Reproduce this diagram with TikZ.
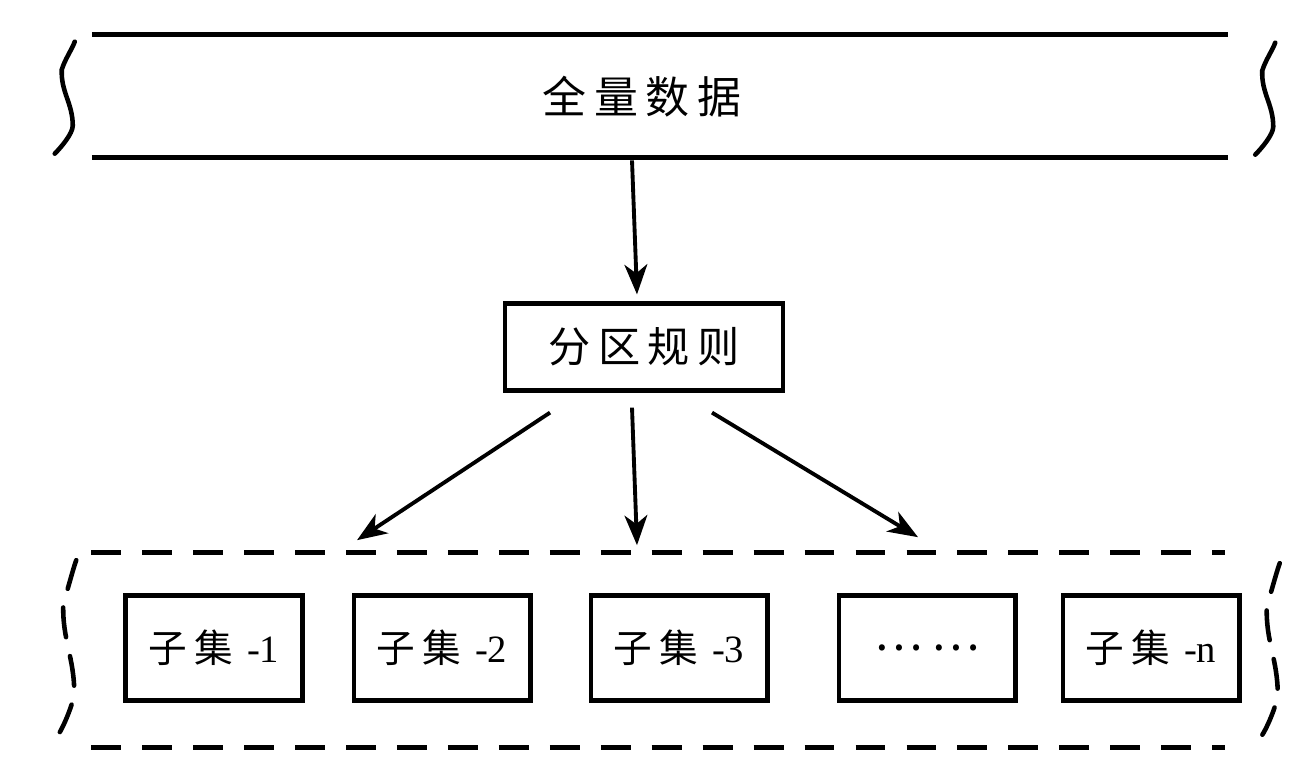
\documentclass[tikz,border=0pt]{standalone}
\usepackage{fontspec}
\setmainfont{Liberation Serif}
\newfontfamily\cjk[LetterSpace=18]{Noto Sans CJK SC}
\usetikzlibrary{arrows.meta,calc}
\begin{document}
\begin{tikzpicture}[x=.02cm,y=-.02cm,
band/.style={minimum width=22.72cm,minimum height=2.44cm,inner sep=0},
sband/.style={minimum width=22.66cm,minimum height=3.9cm,inner sep=0},
box/.style={draw,line width=2.3pt,minimum width=3.54cm,minimum height=2.1cm,inner sep=0,font=\fontsize{22}{26}\selectfont},
rulebox/.style={draw,line width=2.4pt,minimum width=5.56cm,minimum height=1.74cm,inner sep=0},
arr/.style={line width=2.2pt,-{Stealth[length=17pt,width=13pt,inset=5pt]}},
dashline/.style={line width=2.8pt,dash pattern=on 17pt off 12pt}]
\newcommand{\Squig}[3]{\draw[line width=2.6pt,line cap=round,#1](#2)
 .. controls +(-3,8) and +(3,-10) .. ++(-13,.25*#3)
 .. controls +(-1,.2*#3) and +(0,-.2*#3) .. ++(11,.5*#3)
 .. controls +(0,8) and +(6,-6) .. ++(-18,.25*#3);}
\newcommand{\Sub}[1]{{\cjk 子集}\hspace{8pt}#1}
\useasboundingbox(0,0)rectangle(1314,764);
\node[band](full)at(660,96){};
\node[font=\cjk\fontsize{25}{29}\selectfont](fulltxt)at($(full)+(-18,1)$){全量数据};
\draw[line width=2.8pt](full.north west)--(full.north east)(full.south west)--(full.south east);
\Squig{}{$(full.north west)+(-17,7)$}{112}
\Squig{}{$(full.north east)+(47,8)$}{112}
\node[rulebox](rule)at(644,347){\cjk\fontsize{24}{28}\selectfont 分区规则};
\node[sband](subs)at(658,650){};
\draw[dashline](subs.north west)--(subs.north east)(subs.south west)--(subs.south east);
\Squig{dash pattern=on 17pt off 11pt}{$(subs.north west)+(-15,8)$}{177}
\Squig{dash pattern=on 17pt off 11pt}{$(subs.north east)+(55,11)$}{175}
\foreach \x/\k in {214/1,442/2,679/3,1151/n}
 \node[box](s\k)at(\x,648){\Sub{-\k}};
\node[box](sdots)at(927,648){\cjk\fontsize{26}{30}\selectfont ……};
\draw[arr]($(full.south)+(-28,3)$)--($(rule.north)+(-7,-7)$);
\draw[arr]($(rule.south)+(-94,20)$)--($(subs.north)+(-301,-12)$);
\draw[arr]($(rule.south)+(-12,15)$)--($(subs.north)+(-21,-7)$);
\draw[arr]($(rule.south)+(68,20)$)--($(subs.north)+(260,-15)$);
\end{tikzpicture}
\end{document}
